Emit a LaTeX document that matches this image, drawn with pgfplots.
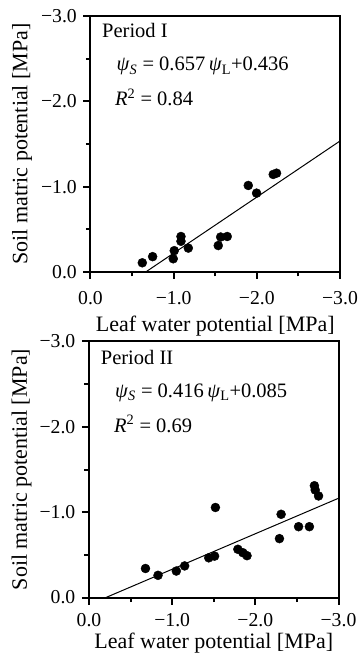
\documentclass[border=0pt]{standalone}
\usepackage{fontspec}
\setmainfont{Liberation Serif}
\usepackage{pgfplots}
\pgfplotsset{compat=1.18}
\newcommand{\tickfont}{\fontsize{19.7bp}{22bp}\selectfont}
\newcommand{\labfont}{\fontsize{22bp}{26bp}\selectfont}
\newcommand{\txtfont}{\fontsize{20.5bp}{24bp}\selectfont}
\pgfplotsset{
  panel/.style={
    scale only axis, width=249.5bp, height=256bp,
    xmin=-3, xmax=0, ymin=-3, ymax=0,
    x dir=reverse, y dir=reverse,
    xtick={0,-1,-2,-3}, xticklabels={0.0,−1.0,−2.0,−3.0},
    ytick={0,-1,-2,-3}, yticklabels={0.0,−1.0,−2.0,−3.0},
    minor xtick={-0.5,-1.5,-2.5}, minor ytick={-0.5,-1.5,-2.5},
    tick align=outside, xtick pos=bottom, ytick pos=left,
    major tick length=7bp, minor tick length=4.5bp,
    tick style={line width=2bp, black},
    axis line style={line width=2bp},
    tick label style={font=\tickfont},
    yticklabel style={inner sep=1.5bp, xshift=-5bp},
    every axis x label/.style={at={(axis description cs:0.5,0)}, anchor=base, inner sep=0pt, font=\labfont},
    every axis y label/.style={at={(axis description cs:0,0.5)}, rotate=90, anchor=base, inner sep=0pt, font=\labfont},
    xlabel={Leaf water potential [MPa]},
    ylabel={Soil matric potential [MPa]},
    clip=false,
  },
  dots/.style={only marks, mark=*, mark size=4.5bp, mark options={fill=black, draw=black}},
  fit/.style={black, line width=1bp, no marks},
}
\begin{document}
\begin{tikzpicture}[x=1bp,y=1bp]
\path[use as bounding box] (0,0) rectangle (359,653);
% Period I
\begin{axis}[panel, at={(90.5bp,381bp)}, anchor=south west,
  xticklabel style={inner sep=1bp, yshift=-11bp},
  xlabel style={yshift=-60bp}, ylabel style={xshift=0bp, yshift=63bp}]
\addplot[fit] coordinates {(-0.664,0) (-3,-1.535)};
\addplot[dots] coordinates {
(-0.623,-0.108) (-0.747,-0.18) (-0.995,-0.155) (-1.007,-0.25)
(-1.088,-0.416) (-1.088,-0.36) (-1.176,-0.28) (-1.536,-0.31)
(-1.565,-0.41) (-1.644,-0.416) (-1.897,-1.014) (-1.997,-0.924)
(-2.197,-1.143) (-2.237,-1.158)};
\end{axis}
% Period II
\begin{axis}[panel, at={(89bp,55.5bp)}, anchor=south west,
  xticklabel style={inner sep=1bp, yshift=-8bp},
  xlabel style={yshift=-50.5bp}, ylabel style={yshift=62bp}]
\addplot[fit] coordinates {(-0.204,0) (-3,-1.163)};
\addplot[dots] coordinates {
(-0.679,-0.34) (-0.83,-0.26) (-1.05,-0.31) (-1.15,-0.37)
(-1.44,-0.465) (-1.51,-0.485) (-1.52,-1.055) (-1.79,-0.565)
(-1.85,-0.525) (-1.90,-0.49) (-2.29,-0.69) (-2.31,-0.975)
(-2.52,-0.83) (-2.65,-0.83) (-2.71,-1.31) (-2.72,-1.26) (-2.76,-1.19)};
\end{axis}
\node[anchor=base west, inner sep=0, font=\txtfont] at (102,615) {Period I};
\node[anchor=base west, inner sep=0, font=\txtfont] at (116.5,582) {\textit{ψ}\textsubscript{\textit{S}} = 0.657\,\textit{ψ}\textsubscript{L}+0.436};
\node[anchor=base west, inner sep=0, font=\txtfont] at (115,547) {\textit{R}\textsuperscript{2} = 0.84};
\node[anchor=base west, inner sep=0, font=\txtfont] at (100.7,288) {Period II};
\node[anchor=base west, inner sep=0, font=\txtfont] at (115,255.5) {\textit{ψ}\textsubscript{\textit{S}} = 0.416\,\textit{ψ}\textsubscript{L}+0.085};
\node[anchor=base west, inner sep=0, font=\txtfont] at (114,220.5) {\textit{R}\textsuperscript{2} = 0.69};
\end{tikzpicture}
\end{document}
